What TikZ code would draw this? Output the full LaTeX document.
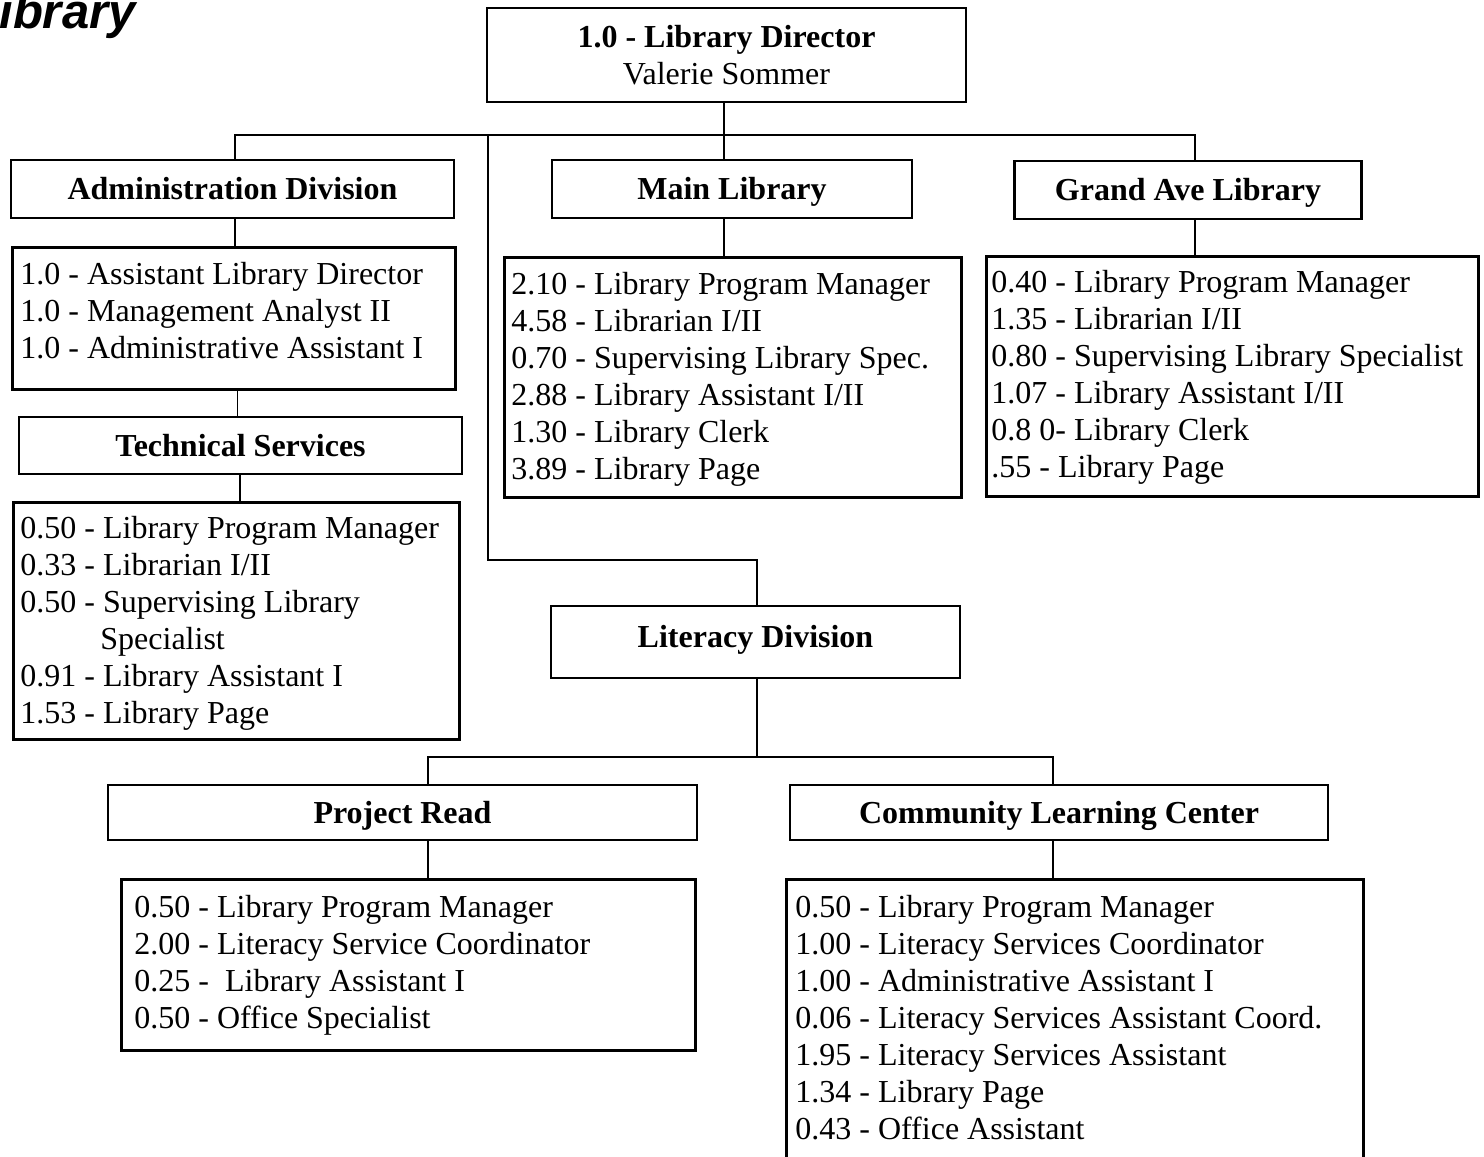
\documentclass[tikz,border=0pt]{standalone}
\usepackage{fontspec}
\setmainfont{Liberation Serif}
\newfontfamily\headsans{Liberation Sans}
\begin{document}
\begin{tikzpicture}[x=0.5pt,y=-0.5pt,
  box/.style={draw, line width=1.4pt, inner sep=0pt},
  head/.style={box, font=\fontsize{16pt}{18.5pt}\selectfont\bfseries, align=center,
               text height=12pt, text depth=1.2pt},
  roster/.style={inner sep=0pt, anchor=base west, font=\fontsize{16pt}{18.5pt}\selectfont},
  link/.style={line width=0.9pt}]
\useasboundingbox (0,0) rectangle (1484,1157);

% page title, running off the top-left corner
\node[anchor=base east, inner sep=0pt,
      font=\headsans\fontsize{24.5pt}{28pt}\selectfont\bfseries\itshape] (title) at (136,28) {Library};

% director
\node[box, minimum width=239.5pt, minimum height=47pt, align=center,
      font=\fontsize{16pt}{18.5pt}\selectfont] (dir) at (726.5,55)
      {\textbf{1.0 - Library Director}\\Valerie Sommer};

% first level units
\node[head, minimum width=221.5pt, minimum height=29pt] (admin) at (232.5,189) {Administration Division};
\node[head, minimum width=180pt, minimum height=29pt] (main) at (732,189) {Main Library};
\node[head, minimum width=173.5pt, minimum height=29pt] (grand) at (1188,190) {Grand Ave Library};

% administration
\node[box, anchor=north west, minimum width=221.5pt, minimum height=71pt] (adminstaff) at (11,246) {};
\node[roster] (adminlist) at (20,284) {\begin{tabular}[t]{@{}l@{}}
1.0 - Assistant Library Director\\
1.0 - Management Analyst II\\
1.0 - Administrative Assistant I
\end{tabular}};

\node[head, minimum width=221.5pt, minimum height=28.5pt] (tech) at (240.5,445.5) {Technical Services};
\node[box, anchor=north west, minimum width=223pt, minimum height=118.5pt] (techstaff) at (12,501) {};
\node[roster] (techlist) at (20,538) {\begin{tabular}[t]{@{}l@{}}
0.50 - Library Program Manager\\
0.33 - Librarian I/II\\
0.50 - Supervising Library\\
\hspace*{40pt}Specialist\\
0.91 - Library Assistant I\\
1.53 - Library Page
\end{tabular}};

% main library
\node[box, anchor=north west, minimum width=228.5pt, minimum height=120pt] (mainstaff) at (503,256) {};
\node[roster] (mainlist) at (511,294) {\begin{tabular}[t]{@{}l@{}}
2.10 - Library Program Manager\\
4.58 - Librarian I/II\\
0.70 - Supervising Library Spec.\\
2.88 - Library Assistant I/II\\
1.30 - Library Clerk\\
3.89 - Library Page
\end{tabular}};

% grand ave library
\node[box, anchor=north west, minimum width=246pt, minimum height=120pt] (grandstaff) at (985,255) {};
\node[roster] (grandlist) at (991,292) {\begin{tabular}[t]{@{}l@{}}
0.40 - Library Program Manager\\
1.35 - Librarian I/II\\
0.80 - Supervising Library Specialist\\
1.07 - Library Assistant I/II\\
0.8 0- Library Clerk\\
.55 - Library Page
\end{tabular}};

% literacy
\node[head, minimum width=204.5pt, minimum height=36pt] (lit) at (755.5,642) {\raisebox{2.5pt}{Literacy Division}};
\node[head, minimum width=294.5pt, minimum height=27.5pt] (pr) at (402.5,812.5) {Project Read};
\node[head, minimum width=269pt, minimum height=27.5pt] (clc) at (1059,812.5) {Community Learning Center};

\node[box, anchor=north west, minimum width=287pt, minimum height=85.5pt] (prstaff) at (120,878) {};
\node[roster] (prlist) at (134,917) {\begin{tabular}[t]{@{}l@{}}
0.50 - Library Program Manager\\
2.00 - Literacy Service Coordinator\\
0.25 -\ \ Library Assistant I\\
0.50 - Office Specialist
\end{tabular}};

\node[box, anchor=north west, minimum width=288.5pt, minimum height=150pt] (clcstaff) at (785,878) {};
\node[roster] (clclist) at (795,917) {\begin{tabular}[t]{@{}l@{}}
0.50 - Library Program Manager\\
1.00 - Literacy Services Coordinator\\
1.00 - Administrative Assistant I\\
0.06 - Literacy Services Assistant Coord.\\
1.95 - Literacy Services Assistant\\
1.34 - Library Page\\
0.43 - Office Assistant
\end{tabular}};

% junction points of the connectors
\coordinate (top) at (724,135);
\coordinate (busL) at (235,135);
\coordinate (busR) at (1195,135);
\coordinate (litbend) at (488,560);
\coordinate (litx) at (757,560);
\coordinate (bus2) at (757,757);
\coordinate (prx) at (428,757);
\coordinate (clcx) at (1053,757);

% connectors
\draw[link] (dir.south -| top) -- (top);
\draw[link] (admin.north -| busL) -- (busL) -- (busR) -- (grand.north -| busR);
\draw[link] (top) -- (main.north -| top);
\draw[link] (admin.south -| busL) -- (adminstaff.north -| busL);
\draw[link] (adminstaff.south -| 237.5,0) -- (tech.north -| 237.5,0);
\draw[link] (tech.south -| 240,0) -- (techstaff.north -| 240,0);
\draw[link] (main.south -| top) -- (mainstaff.north -| top);
\draw[link] (grand.south -| busR) -- (grandstaff.north -| busR);
\draw[link] (litbend |- top) -- (litbend) -- (litx) -- (lit.north -| litx);
\draw[link] (lit.south -| bus2) -- (bus2);
\draw[link] (pr.north -| prx) -- (prx) -- (clcx) -- (clc.north -| clcx);
\draw[link] (pr.south -| prx) -- (prstaff.north -| prx);
\draw[link] (clc.south -| clcx) -- (clcstaff.north -| clcx);
\end{tikzpicture}
\end{document}
